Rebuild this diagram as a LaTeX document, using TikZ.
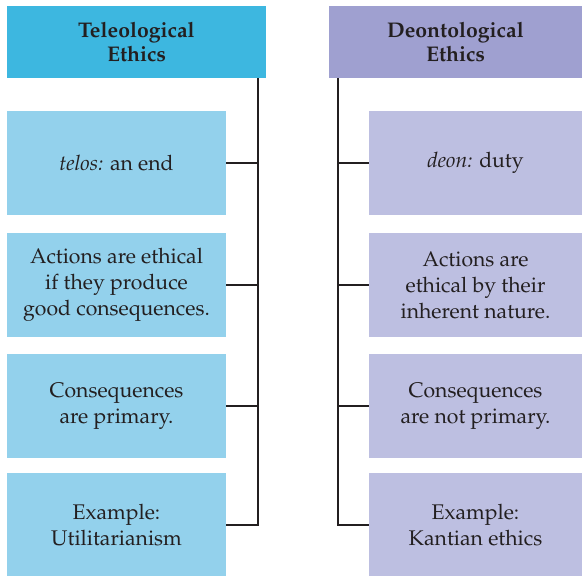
\documentclass[tikz,border=0pt]{standalone}
\usepackage[T1]{fontenc}
\usepackage{mathpazo}
\definecolor{hdrL}{HTML}{3DB7E0}
\definecolor{hdrR}{HTML}{9FA0D0}
\definecolor{boxL}{HTML}{93D1EC}
\definecolor{boxR}{HTML}{BDBFE1}
\definecolor{ink}{HTML}{231F20}
\tikzset{
  hdr/.style={rectangle, inner sep=0pt, minimum height=36pt, align=center, text=ink,
    font=\fontsize{10.6}{12}\selectfont\bfseries},
  itembox/.style={rectangle, inner sep=0pt, minimum height=52pt, align=center, text=ink,
    font=\fontsize{10.6}{13}\selectfont},
  lbox/.style={itembox, fill=boxL, minimum width=109.5pt},
  rbox/.style={itembox, fill=boxR, minimum width=106.5pt},
  link/.style={draw=ink, line width=1pt}
}
\begin{document}
\begin{tikzpicture}[x=0.5pt, y=-0.5pt]
\useasboundingbox (0,0) rectangle (582,576);
\node[hdr, fill=hdrL, minimum width=129.5pt] (lh) at (136.5,42) {Teleological\\Ethics};
\node[hdr, fill=hdrR, minimum width=126.5pt] (rh) at (455.5,42) {Deontological\\Ethics};
\node[lbox] (l1) at (116.5,163) {\textit{telos:} an end};
\node[lbox] (l2) at (116.5,285) {Actions are ethical\\if they produce\\good consequences.};
\node[lbox] (l3) at (116.5,406) {Consequences\\are primary.};
\node[lbox] (l4) at (116.5,525) {Example:\\Utilitarianism};
\node[rbox] (r1) at (475.5,163) {\textit{deon:} duty};
\node[rbox] (r2) at (475.5,285) {Actions are\\ethical by their\\inherent nature.};
\node[rbox] (r3) at (475.5,406) {Consequences\\are not primary.};
\node[rbox] (r4) at (475.5,525) {Example:\\Kantian ethics};
\coordinate (lv) at (258,0);
\coordinate (rv) at (338,0);
\draw[link] (lh.south -| lv) |- (l4.east);
\draw[link] (l1.east) -- (l1.east -| lv);
\draw[link] (l2.east) -- (l2.east -| lv);
\draw[link] (l3.east) -- (l3.east -| lv);
\draw[link] (rh.south -| rv) |- (r4.west);
\draw[link] (r1.west) -- (r1.west -| rv);
\draw[link] (r2.west) -- (r2.west -| rv);
\draw[link] (r3.west) -- (r3.west -| rv);
\end{tikzpicture}
\end{document}
